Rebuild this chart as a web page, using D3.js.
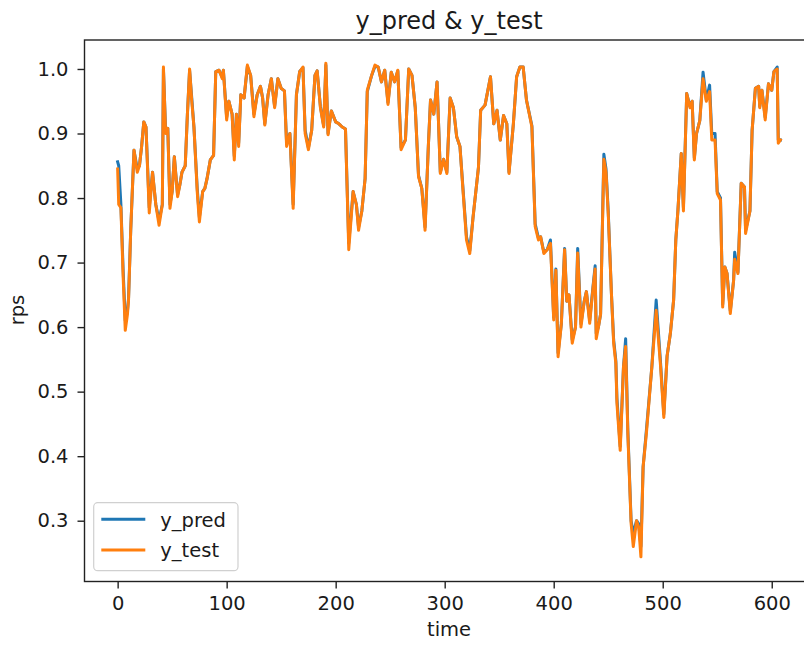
<!DOCTYPE html>
<html>
<head>
<meta charset="utf-8">
<script src="https://cdn.jsdelivr.net/npm/d3@7"></script>
<style>
  html, body { margin: 0; padding: 0; background: #fff; }
  svg { display: block; }
  text { font-family: "DejaVu Sans", sans-serif; fill: #1a1a1a; }
</style>
</head>
<body>
<svg id="chart" width="804" height="646"></svg>
<script>
// ---- data ----
const time = [0,1,3,5,7,9,10,12,15,18,20,22,24,26,29,32,35,38,41,42,44,46,48,50,52,55,57,59,62,64,66,68,70,73,75,78,80,82,85,88,90,93,96,97,100,102,105,107,109,111,113,116,119,122,125,128,131,133,135,138,141,144,147,150,153,155,158,161,164,167,170,172,175,178,181,183,186,189,191,193,196,200,203,206,209,212,216,219,221,224,227,229,233,236,239,242,245,248,251,254,257,260,264,267,270,273,276,279,282,285,287,290,293,296,299,302,305,308,311,314,317,320,323,326,331,333,337,342,345,348,351,354,357,359,363,366,369,372,375,380,383,386,388,391,394,397,400,402,404,407,410,412,414,417,420,422,425,428,430,433,436,438,439,441,443,446,448,450,453,455,457,458,461,464,466,468,471,473,476,478,480,482,485,490,494,498,501,504,507,510,512,514,517,519,522,525,527,529,531,534,537,540,543,545,548,550,553,555,557,559,562,565,566,569,572,575,576,580,582,585,588,589,591,594,597,600,602,605,606,608];

const yTest = [0.845,0.79,0.785,0.68,0.595,0.62,0.642,0.75,0.874,0.84,0.85,0.88,0.918,0.91,0.777,0.84,0.79,0.758,0.79,1.003,0.9,0.908,0.784,0.81,0.864,0.802,0.82,0.84,0.85,0.93,1.0,0.95,0.91,0.81,0.763,0.81,0.815,0.83,0.859,0.866,0.996,0.998,0.985,0.998,0.921,0.95,0.93,0.859,0.93,0.88,0.96,0.955,1.006,0.99,0.926,0.96,0.973,0.955,0.913,0.96,0.985,0.94,0.985,0.97,0.966,0.88,0.9,0.784,0.96,0.996,1.003,0.9,0.875,0.905,0.99,0.997,0.94,0.91,1.009,0.898,0.935,0.918,0.915,0.91,0.907,0.72,0.81,0.79,0.75,0.78,0.83,0.967,0.99,1.006,1.003,0.98,0.998,0.945,0.995,0.98,0.998,0.875,0.89,1.0,0.99,0.94,0.833,0.815,0.75,0.88,0.952,0.93,0.98,0.838,0.86,0.838,0.955,0.94,0.895,0.88,0.807,0.735,0.714,0.77,0.848,0.936,0.944,0.988,0.915,0.936,0.89,0.928,0.915,0.838,0.915,0.988,1.003,1.003,0.952,0.91,0.756,0.735,0.74,0.714,0.72,0.73,0.611,0.688,0.554,0.605,0.72,0.64,0.65,0.575,0.6,0.715,0.6,0.64,0.655,0.606,0.66,0.69,0.582,0.6,0.62,0.86,0.84,0.776,0.65,0.575,0.544,0.482,0.409,0.538,0.57,0.435,0.296,0.26,0.3,0.29,0.244,0.383,0.435,0.538,0.626,0.54,0.46,0.555,0.59,0.642,0.735,0.782,0.869,0.78,0.962,0.94,0.95,0.859,0.9,0.92,0.985,0.95,0.965,0.89,0.89,0.807,0.797,0.631,0.693,0.683,0.621,0.672,0.705,0.683,0.823,0.817,0.745,0.78,0.905,0.97,0.973,0.94,0.967,0.921,0.977,0.967,0.996,1.0,0.885,0.89];

const yPred = [0.856,0.85,0.79,0.69,0.61,0.625,0.645,0.75,0.874,0.845,0.85,0.88,0.918,0.91,0.785,0.84,0.79,0.765,0.79,1.0,0.905,0.908,0.79,0.81,0.864,0.805,0.82,0.84,0.85,0.93,0.998,0.955,0.91,0.815,0.77,0.81,0.815,0.83,0.859,0.866,0.996,0.998,0.987,0.998,0.925,0.95,0.93,0.865,0.93,0.885,0.96,0.955,1.004,0.99,0.93,0.96,0.973,0.955,0.915,0.96,0.985,0.942,0.985,0.97,0.966,0.885,0.9,0.79,0.96,0.996,1.002,0.905,0.878,0.905,0.99,0.997,0.942,0.912,1.006,0.9,0.935,0.918,0.915,0.91,0.907,0.73,0.81,0.79,0.755,0.78,0.83,0.965,0.99,1.004,1.003,0.98,0.998,0.948,0.995,0.98,0.997,0.878,0.89,1.0,0.99,0.94,0.835,0.815,0.755,0.88,0.952,0.93,0.98,0.84,0.86,0.84,0.955,0.94,0.895,0.88,0.81,0.74,0.718,0.77,0.848,0.936,0.944,0.988,0.915,0.936,0.89,0.928,0.915,0.84,0.915,0.988,1.003,1.003,0.952,0.912,0.76,0.738,0.74,0.716,0.72,0.735,0.615,0.69,0.56,0.605,0.722,0.64,0.65,0.58,0.6,0.722,0.605,0.64,0.655,0.61,0.662,0.695,0.59,0.6,0.62,0.868,0.845,0.78,0.65,0.58,0.548,0.49,0.415,0.538,0.582,0.44,0.3,0.28,0.3,0.295,0.26,0.383,0.44,0.538,0.642,0.545,0.465,0.555,0.59,0.642,0.735,0.782,0.869,0.785,0.962,0.942,0.95,0.862,0.9,0.92,0.995,0.952,0.975,0.9,0.9,0.81,0.8,0.635,0.693,0.683,0.625,0.672,0.716,0.685,0.823,0.817,0.75,0.78,0.905,0.97,0.973,0.942,0.967,0.925,0.977,0.967,0.996,1.003,0.89,0.89];

const xTicks = [0, 100, 200, 300, 400, 500, 600];
const yTicks = [0.3, 0.4, 0.5, 0.6, 0.7, 0.8, 0.9, 1.0];
const seriesNames = ["y_pred", "y_test"];
const seriesColors = ["#1f77b4", "#ff7f0e"];
const titleText = "y_pred & y_test";
const xLabel = "time";
const yLabel = "rps";

// ---- layout ----
const plot = { left: 84.5, right: 813.6, top: 40, bottom: 581.5 };
const xDomain = [-30.4, 638.4];
const yDomain = [0.2058, 1.0449];

const svg = d3.select("#chart");
const x = d3.scaleLinear().domain(xDomain).range([plot.left, plot.right]);
const y = d3.scaleLinear().domain(yDomain).range([plot.bottom, plot.top]);

svg.append("defs").append("clipPath").attr("id", "clip")
  .append("rect")
  .attr("x", plot.left).attr("y", plot.top)
  .attr("width", plot.right - plot.left).attr("height", plot.bottom - plot.top);

const pred = time.map((t, i) => ({ t, v: yPred[i] }));
const test = time.map((t, i) => ({ t, v: yTest[i] }));
const line = d3.line().x(d => x(d.t)).y(d => y(d.v));

const g = svg.append("g").attr("clip-path", "url(#clip)");
[pred, test].forEach((data, i) => {
  g.append("path")
    .datum(data)
    .attr("d", line)
    .attr("fill", "none")
    .attr("stroke", seriesColors[i])
    .attr("stroke-width", 3)
    .attr("stroke-linejoin", "round")
    .attr("stroke-linecap", "square");
});

// axes
const xAxis = svg.append("g")
  .attr("transform", `translate(0,${plot.bottom})`)
  .call(d3.axisBottom(x).tickValues(xTicks).tickFormat(d3.format("d")).tickSize(7).tickPadding(8));
const yAxis = svg.append("g")
  .attr("transform", `translate(${plot.left},0)`)
  .call(d3.axisLeft(y).tickValues(yTicks).tickFormat(d3.format(".1f")).tickSize(7).tickPadding(9));

[xAxis, yAxis].forEach(a => {
  a.select(".domain").remove();
  a.selectAll(".tick line").attr("stroke", "#222").attr("stroke-width", 1.4);
  a.selectAll(".tick text")
    .style("font-family", "'DejaVu Sans', sans-serif")
    .style("font-size", "19.5px")
    .attr("fill", "#222");
});

// spines
svg.append("rect")
  .attr("x", plot.left).attr("y", plot.top)
  .attr("width", plot.right - plot.left).attr("height", plot.bottom - plot.top)
  .attr("fill", "none").attr("stroke", "#222").attr("stroke-width", 1.4);

// title & labels
const cx = (plot.left + plot.right) / 2;
svg.append("text").attr("x", cx).attr("y", 29)
  .attr("text-anchor", "middle").style("font-size", "24px").text(titleText);
svg.append("text").attr("x", cx).attr("y", 636)
  .attr("text-anchor", "middle").style("font-size", "19.5px").text(xLabel);
svg.append("text")
  .attr("transform", `translate(24,310) rotate(-90)`)
  .attr("text-anchor", "middle").style("font-size", "19.5px").text(yLabel);

// legend
const lg = svg.append("g");
lg.append("rect")
  .attr("x", 93.7).attr("y", 502.7).attr("width", 144.3).attr("height", 68)
  .attr("rx", 4).attr("fill", "#fff").attr("fill-opacity", 0.8)
  .attr("stroke", "#d0d0d0").attr("stroke-width", 1.2);
seriesNames.forEach((name, i) => {
  const ly = 519.3 + i * 30.7;
  lg.append("line")
    .attr("x1", 101.3).attr("x2", 145.3).attr("y1", ly).attr("y2", ly)
    .attr("stroke", seriesColors[i]).attr("stroke-width", 3);
  lg.append("text").attr("x", 160.3).attr("y", ly + 7.3)
    .style("font-size", "19.5px").text(name);
});
</script>
</body>
</html>
